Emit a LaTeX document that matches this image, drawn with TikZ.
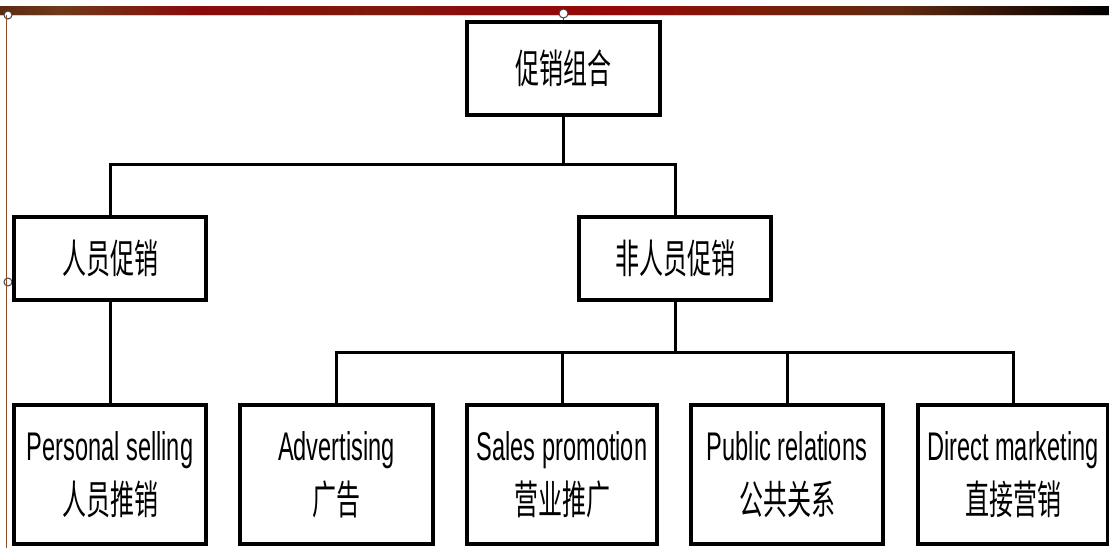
\documentclass[tikz,border=0pt]{standalone}
\usepackage{fontspec}
\newfontfamily\en[FakeStretch=0.59]{Liberation Sans}
\newfontfamily\cjk[FakeStretch=0.6]{Noto Sans CJK SC}
\definecolor{s0}{HTML}{5E2A12}
\definecolor{s1}{HTML}{6E3A1A}
\definecolor{s2}{HTML}{8A0A0A}
\definecolor{s3}{HTML}{7E1A0C}
\definecolor{s4}{HTML}{8A0C0C}
\definecolor{s5}{HTML}{960808}
\definecolor{s6}{HTML}{7A1E0A}
\definecolor{s7}{HTML}{5E2A10}
\definecolor{s8}{HTML}{2A1006}
\definecolor{edgebrown}{HTML}{8B4A2A}
\begin{document}
\begin{tikzpicture}[x=1pt,y=-1pt,
  box/.style={draw,line width=4pt,fill=white,inner sep=0pt,align=center,
    font=\fontsize{40}{54}\selectfont},
  topbox/.style={box,minimum width=192pt,minimum height=83pt},
  lowbox/.style={box,minimum width=191pt,minimum height=139pt},
  conn/.style={line width=3pt},
  handle/.style={draw=black!75,fill=white,line width=1pt}]
\useasboundingbox (0,0) rectangle (1109,548);
\fill[white] (0,0) rectangle (1109,548);
% top strip
\shade[left color=s0,right color=s1] (0,7) rectangle (60.5,15);
\shade[left color=s1,right color=s2] (60,7) rectangle (200.5,15);
\shade[left color=s2,right color=s3] (200,7) rectangle (380.5,15);
\shade[left color=s3,right color=s4] (380,7) rectangle (470.5,15);
\shade[left color=s4,right color=s5] (470,7) rectangle (620.5,15);
\shade[left color=s5,right color=s6] (620,7) rectangle (760.5,15);
\shade[left color=s6,right color=s7] (760,7) rectangle (900.5,15);
\shade[left color=s7,right color=s8] (900,7) rectangle (1020.5,15);
\shade[left color=s8,right color=black] (1020,7) rectangle (1109,15);
\draw[line width=1pt,color={rgb,255:red,232;green,200;blue,184}] (0,15.5) -- (1109,15.5);
% selection handles and left edge
\draw[handle] (8,15) circle (4);
\draw[handle] (8,282) circle (4);
\draw[edgebrown,line width=1.5pt] (6.5,15) -- (6.5,548);
% nodes
\node[box,minimum width=193pt,minimum height=93pt] (top) at (563.5,68.5) {\cjk 促销组合};
\draw[line width=1.5pt,black!75] (top.north) -- ++(0,-3);
\draw[handle] (563.5,13.5) circle (4.5);
\node[topbox] (pp) at (110,258.5) {\cjk 人员促销};
\node[topbox] (np) at (675,258.5) {\cjk 非人员促销};
\node[lowbox,minimum width=192pt] (ps) at (110,474.5) {\en Personal selling\\\cjk 人员推销};
\node[lowbox,minimum width=193pt] (ad) at (336.5,474.5) {\en Advertising\\\cjk 广告};
\node[lowbox,minimum width=190pt] (sp) at (562,474.5) {\en Sales promotion\\\cjk 营业推广};
\node[lowbox,minimum width=192pt] (pr) at (787,474.5) {\en Public relations\\\cjk 公共关系};
\node[lowbox,minimum width=190pt] (dm) at (1013,474.5) {\en Direct marketing\\\cjk 直接营销};
% connectors
\coordinate (bar1) at (0,165);
\coordinate (bar2) at (0,352);
\draw[conn] (top.south) -- (top.south |- bar1);
\draw[conn] (pp.north) |- (np.north |- bar1) -- (np.north);
\draw[conn] (pp.south) -- (ps.north);
\draw[conn] (np.south) -- (np.south |- bar2);
\draw[conn] (ad.north) |- (dm.north |- bar2) -- (dm.north);
\draw[conn] (sp.north) -- (sp.north |- bar2);
\draw[conn] (pr.north) -- (pr.north |- bar2);
\end{tikzpicture}
\end{document}
